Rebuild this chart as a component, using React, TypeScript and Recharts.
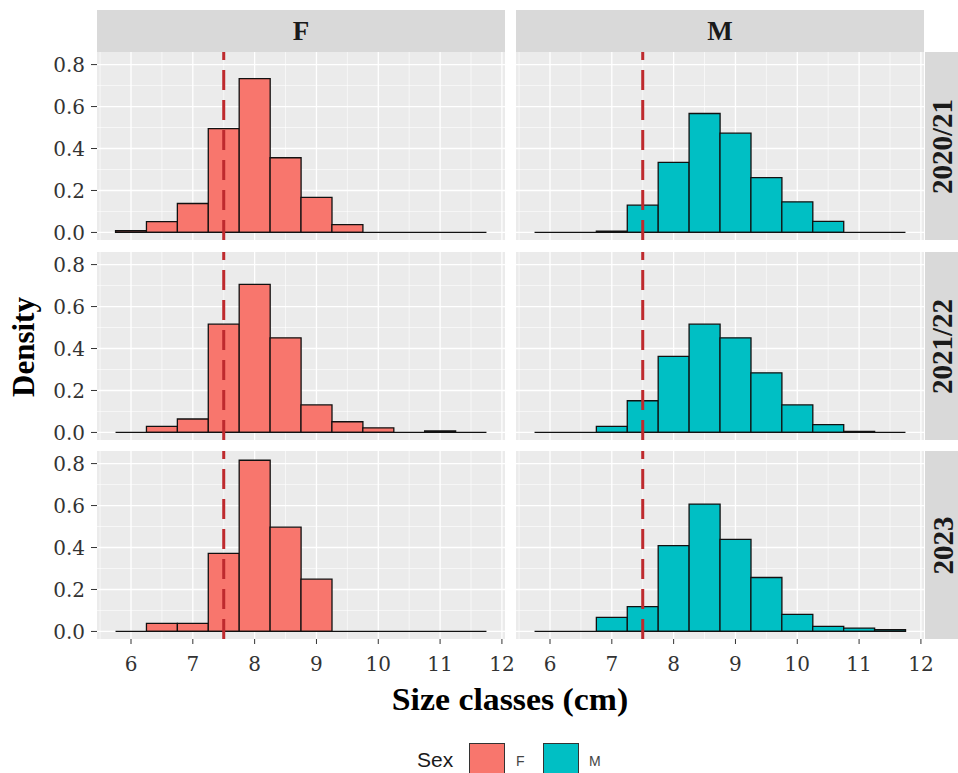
import { BarChart, Bar, XAxis, YAxis, CartesianGrid, ReferenceLine } from 'recharts'

// histogram bins (0.5 cm wide, centred on the half-cm)
const binMids = [6, 6.5, 7, 7.5, 8, 8.5, 9, 9.5, 10, 10.5, 11, 11.5]
const binWidth = 0.5
const xTicks = [6, 7, 8, 9, 10, 11, 12]
const xMinor = [5.5, 6.5, 7.5, 8.5, 9.5, 10.5, 11.5]
const yTicks = [0, 0.2, 0.4, 0.6, 0.8]
const yMinor = [0.1, 0.3, 0.5, 0.7]
const sexes = ['F', 'M']
const years = ['2020/21', '2021/22', '2023']
const minSize = 7.5

const female2020 = [0.008, 0.052, 0.138, 0.495, 0.733, 0.356, 0.167, 0.037, 0, 0, 0, 0]
const male2020 = [0, 0, 0.006, 0.13, 0.334, 0.567, 0.473, 0.261, 0.146, 0.053, 0, 0]
const female2021 = [0, 0.029, 0.064, 0.516, 0.706, 0.451, 0.131, 0.051, 0.022, 0, 0.007, 0]
const male2021 = [0, 0, 0.029, 0.151, 0.363, 0.516, 0.451, 0.284, 0.131, 0.037, 0.005, 0]
const female2023 = [0, 0.038, 0.038, 0.372, 0.816, 0.497, 0.249, 0, 0, 0, 0, 0]
const male2023 = [0, 0, 0.067, 0.118, 0.409, 0.607, 0.439, 0.257, 0.081, 0.024, 0.016, 0.008]

const densities = [
  [female2020, male2020],
  [female2021, male2021],
  [female2023, male2023],
]
const fills: Record<string, string> = { F: '#F8766D', M: '#00BFC4' }

const serif = '"Liberation Serif", "Times New Roman", serif'
const tickFont = '"DejaVu Serif", serif'
const sans = '"Liberation Sans", Arial, sans-serif'

const colLeft = [97, 516]
const rowTop = [52, 252, 451]
const panelW = 408
const panelH = 188
const yAxisW = 97
const xAxisH = 40
const pad = 14

function Panel({ row, col }: { row: number; col: number }) {
  const values = densities[row][col]
  const data = binMids.map((mid, i) => ({ mid, density: values[i] }))
  const showY = col === 0
  const showX = row === years.length - 1
  const width = panelW + (showY ? yAxisW : 0) + 2 * pad
  const height = panelH + (showX ? xAxisH : 0) + 2 * pad
  const tick = { fill: '#333', fontSize: 20, fontFamily: tickFont }
  return (
    <div style={{ position: 'absolute', left: colLeft[col] - (showY ? yAxisW : 0) - pad, top: rowTop[row] - pad }}>
      <BarChart
        width={width}
        height={height}
        data={data}
        margin={{ top: pad, right: pad, bottom: pad, left: pad }}
        barCategoryGap={0}
        barGap={0}
      >
        <CartesianGrid
          fill="#EBEBEB"
          stroke="#FFFFFF"
          strokeWidth={0.6}
          horizontalValues={yMinor}
          verticalValues={xMinor}
        />
        <CartesianGrid
          fill="none"
          stroke="#FFFFFF"
          strokeWidth={1.3}
          horizontalValues={yTicks}
          verticalValues={xTicks}
        />
        <XAxis
          dataKey="mid"
          type="number"
          domain={[5.45, 12.05]}
          ticks={xTicks}
          allowDataOverflow
          hide={!showX}
          height={xAxisH}
          axisLine={false}
          tickLine={{ stroke: '#333' }}
          tickSize={5}
          tickMargin={13}
          tick={tick}
          interval={0}
        />
        <YAxis
          type="number"
          domain={[-0.036, 0.86]}
          ticks={yTicks}
          allowDataOverflow
          hide={!showY}
          width={yAxisW}
          axisLine={false}
          tickLine={{ stroke: '#333' }}
          tickSize={6}
          tickMargin={6}
          tick={tick}
          tickFormatter={(v: number) => v.toFixed(1)}
          interval={0}
        />
        <ReferenceLine
          segment={[
            { x: binMids[0] - binWidth / 2, y: 0 },
            { x: binMids[binMids.length - 1] + binWidth / 2, y: 0 },
          ]}
          stroke="#111"
          strokeWidth={1.3}
        />
        <Bar
          dataKey="density"
          fill={fills[sexes[col]]}
          stroke="#111"
          strokeWidth={1.3}
          isAnimationActive={false}
        />
        <ReferenceLine x={minSize} stroke="#BE2A2E" strokeWidth={3} strokeDasharray="20 10" />
      </BarChart>
    </div>
  )
}

export default function App() {
  return (
    <div
      style={{
        position: 'fixed',
        left: 0,
        top: 0,
        width: 958,
        height: 773,
        background: '#fff',
        overflow: 'hidden',
        fontFamily: serif,
      }}
    >
      {sexes.map((s, c) => (
        <div
          key={s}
          style={{
            position: 'absolute',
            left: colLeft[c],
            top: 10,
            width: panelW,
            height: 42,
            background: '#D9D9D9',
            display: 'flex',
            alignItems: 'center',
            justifyContent: 'center',
            fontWeight: 'bold',
            fontSize: 27,
            color: '#1a1a1a',
          }}
        >
          {s}
        </div>
      ))}
      {years.map((y, r) => (
        <div
          key={y}
          style={{
            position: 'absolute',
            left: colLeft[1] + panelW + 1,
            top: rowTop[r],
            width: 36,
            height: panelH,
            background: '#D9D9D9',
            display: 'flex',
            alignItems: 'center',
            justifyContent: 'center',
          }}
        >
          <div
            style={{
              transform: 'rotate(-90deg)',
              whiteSpace: 'nowrap',
              fontWeight: 'bold',
              fontSize: 29,
              color: '#1a1a1a',
            }}
          >
            {y}
          </div>
        </div>
      ))}
      {years.map((y, r) => sexes.map((s, c) => <Panel key={y + s} row={r} col={c} />))}
      <div
        style={{
          position: 'absolute',
          left: 24,
          top: 347,
          transform: 'translate(-50%, -50%) rotate(-90deg)',
          whiteSpace: 'nowrap',
          fontWeight: 'bold',
          fontSize: 31,
          color: '#000',
        }}
      >
        Density
      </div>
      <div
        style={{
          position: 'absolute',
          left: 510,
          top: 700,
          transform: 'translate(-50%, -50%) scaleX(1.09)',
          whiteSpace: 'nowrap',
          fontWeight: 'bold',
          fontSize: 31,
          color: '#000',
        }}
      >
        Size classes (cm)
      </div>
      <div style={{ position: 'absolute', left: 417, top: 748, fontFamily: sans, fontSize: 21, color: '#1a1a1a' }}>
        Sex
      </div>
      {sexes.map((s, i) => (
        <div key={s}>
          <div
            style={{
              position: 'absolute',
              left: 469 + i * 74,
              top: 743,
              width: 36,
              height: 36,
              background: fills[s],
              border: '1.5px solid #333',
              boxSizing: 'border-box',
            }}
          />
          <div
            style={{
              position: 'absolute',
              left: 516 + i * 73,
              top: 753,
              fontFamily: sans,
              fontSize: 14,
              color: '#444',
            }}
          >
            {s}
          </div>
        </div>
      ))}
    </div>
  )
}
